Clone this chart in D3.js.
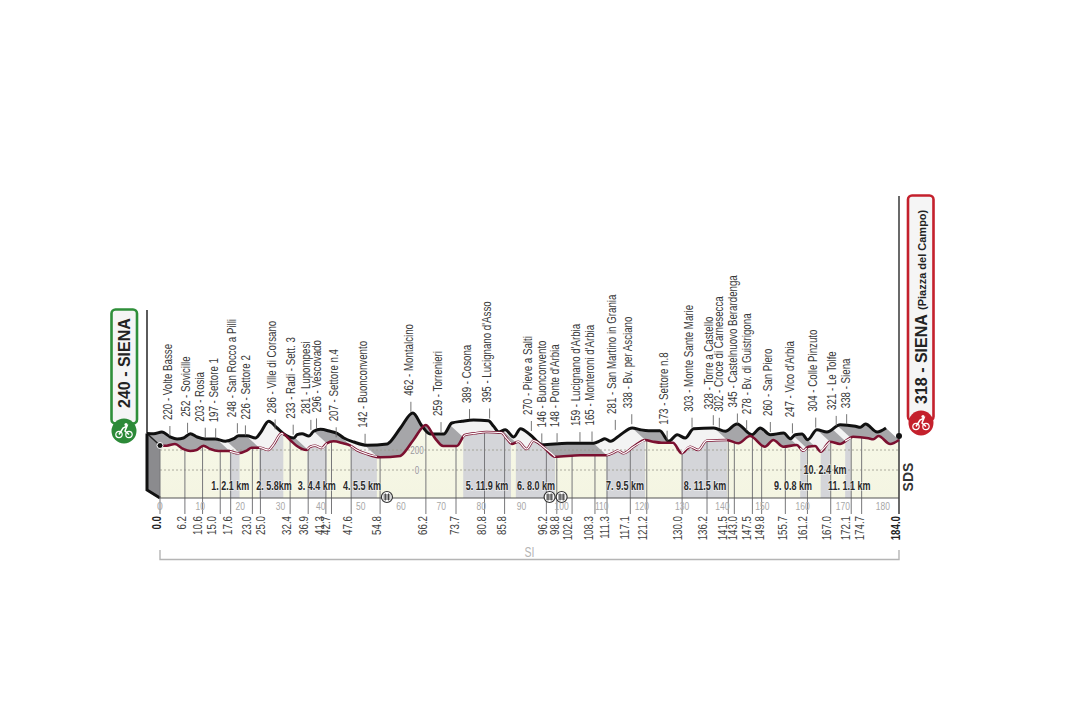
<!DOCTYPE html>
<html><head><meta charset="utf-8">
<script src="https://cdnjs.cloudflare.com/ajax/libs/d3/7.8.5/d3.min.js"></script>
<style>html,body{margin:0;padding:0;background:#fff}svg{display:block}text{font-family:"Liberation Sans",sans-serif}</style>
</head><body><svg id="c" width="1068" height="712"></svg>
<script>
// profile
const profileKm=[0,1.7,3.7,5.8,7.5,9.1,10.8,12.5,14.5,17,19.5,21.6,22.8,24.9,27,28.2,30.3,32.4,34,36.5,37.4,38.6,40.3,41.5,43.2,45.6,47.3,49,51.5,54.8,59.8,60.2,63.1,66.2,68.5,70.5,73.9,75.9,78.4,81.3,85,86.3,87.6,89.2,91.3,93,95.4,98.4,104.6,111.2,112.9,114,115.4,117.9,120.8,122.8,124.9,127.7,129.9,132,134,136.1,141.1,144,146.9,150.6,152.7,155.2,158.5,160.2,161.4,163.1,164.5,166.8,169.3,172.6,176.4,177.6,178.9,181.8,184];
const profileElev=[245,243,260,210,190,200,243,210,190,190,167,193,223,223,200,250,367,300,243,200,233,243,220,267,287,267,247,200,160,127,140,150,300,450,317,240,240,350,367,380,373,317,260,283,210,293,233,133,147,147,173,193,167,233,300,283,273,273,167,233,200,293,300,267,340,233,300,233,250,193,233,240,183,283,260,333,317,307,340,260,300];
const placeKm=[6.2,10.6,15.0,17.6,23.0,25.0,32.4,36.9,41.3,42.7,47.6,54.8,66.2,73.7,80.8,85.8,96.2,98.8,102.6,108.3,111.3,117.1,121.2,130.0,136.2,141.5,143.0,147.5,149.8,155.7,161.2,167.0,172.1,174.7];
const placeKmLabels=["6.2","10.6","15.0","17.6","23.0","25.0","32.4","36.9","41.3","42.7","47.6","54.8","66.2","73.7","80.8","85.8","96.2","98.8","102.6","108.3","111.3","117.1","121.2","130.0","136.2","141.5","143.0","147.5","149.8","155.7","161.2","167.0","172.1","174.7"];
const placeElev=[220,252,203,197,248,226,286,233,281,296,207,142,462,259,389,395,270,146,148,159,165,281,338,173,303,328,302,345,278,260,247,304,321,338];
const placeNames=["Volte Basse","Sovicille","Rosia","Settore 1","San Rocco a Pilli","Settore 2","Ville di Corsano","Radi - Sett. 3","Lupompesi","Vescovado","Settore n.4","Buonconvento","Montalcino","Torrenieri","Cosona","Lucignano d'Asso","Pieve a Salti","Buonconvento","Ponte d'Arbia","Lucignano d'Arbia","Monteroni d'Arbia","San Martino in Grania","Bv. per Asciano","Settore n.8","Monte Sante Marie","Torre a Castello","Croce di Carnesecca","Castelnuovo Berardenga","Bv. di Guistrigona","San Piero","Vico d'Arbia","Colle Pinzuto","Le Tolfe","Siena"];
const sectorStart=[17.4,24.7,36.7,47.5,75.5,88.6,111.2,129.9,159.4,164.5,170.6];
const sectorEnd=[19.8,30.7,41.5,54,87.4,98.4,120.8,141.2,161,166.8,172];
const sectorNames=["1. 2.1 km","2. 5.8km","3. 4.4 km","4. 5.5 km","5. 11.9 km","6. 8.0 km","7. 9.5 km","8. 11.5 km","9. 0.8 km","10. 2.4 km","11. 1.1 km"];
const kmTicks=[10,20,30,40,50,60,70,80,90,100,110,120,130,140,150,160,170,180];
const crossingKm=[56.5,97,100];
const elevTicks=[200,0];

// layout
const labelNudge=[-2,-2,-5,-2,-5,.5,-3,-2.5,-5,.5,-2,-2,-2,-3,-3,-2.5,-3,0,-2,-4,-2,-3.5,-3.5,-3,-3,-4,0,-4.5,.5,-2,-2,-3,-4.5,-.5];
const kmLabelNudge=[-3,-5,-8.5,-3,-5.7,.6,-3.4,-4,-6,-5,-3,-3,-2.6,-1,-2.8,-3,-3.6,-1.8,-3.7,-6,-2,-5,-3.4,-4.5,-3.7,-5,-1,-5.7,-1.6,-2.6,-4.4,-4,-5,-1.6];
const sectorLabelX=[17.5,28.4,39,50.3,81.4,93.6,115.8,135.7,157.6,165.6,171.6];
const sectorLabelY=[486,486,486,486,486,486,486,486,486,470,486];
const baseY=498,dx=-13,dy=-12,tickDx=-15,squeeze=.81;

const x=d3.scaleLinear().domain([0,184]).range([160,899]);
const y=d3.scaleLinear().domain([0,200]).range([470,450]);
const elevAt=d3.scaleLinear().domain(profileKm).range(profileElev);
const svg=d3.select("#c");
const profile=profileKm.map((k,i)=>[k,profileElev[i]]);
function part(a,b){return [[a,elevAt(a)],...profile.filter(d=>d[0]>a&&d[0]<b),[b,elevAt(b)]];}
const redLine=d3.line().x(d=>x(d[0])).y(d=>y(d[1])).curve(d3.curveMonotoneX);
const blackLine=d3.line().x(d=>x(d[0])+dx).y(d=>y(d[1])+dy).curve(d3.curveMonotoneX);
const frontArea=d3.area().x(d=>x(d[0])).y0(baseY).y1(d=>y(d[1])).curve(d3.curveMonotoneX);
function topFace(pts){
  const a=pts.map(d=>[x(d[0])+dx,y(d[1])+dy]);
  const b=pts.slice().reverse().map(d=>[x(d[0]),y(d[1])]);
  return "M"+a.concat(b).map(p=>p.join(",")).join("L")+"Z";
}
const defs=svg.append("defs");
const g1=defs.append("linearGradient").attr("id","front").attr("x1",0).attr("x2",0).attr("y1",0).attr("y2",1);
g1.append("stop").attr("offset",0).attr("stop-color","#fbfbf0");
g1.append("stop").attr("offset",.25).attr("stop-color","#f6f7e6");
g1.append("stop").attr("offset",1).attr("stop-color","#f4f5e2");

// front and top faces
svg.append("path").attr("d",frontArea(profile)).attr("fill","url(#front)");
svg.append("path").attr("d",topFace(profile)).attr("fill","#a6a6a9");
sectorStart.forEach((s,i)=>{
  svg.append("path").attr("d",frontArea(part(s,sectorEnd[i]))).attr("fill","#d4d5d9");
  svg.append("path").attr("d",topFace(part(s,sectorEnd[i]))).attr("fill","#f3f3f3");
});
// elevation grid
elevTicks.forEach(e=>{
  svg.append("line").attr("x1",x(0)).attr("x2",x(184)).attr("y1",y(e)).attr("y2",y(e))
    .attr("stroke","#9a9a8c").attr("stroke-width",.8).attr("stroke-dasharray","2 2");
});
// start side
const e0=profileElev[0];
svg.append("path").attr("d",`M${x(0)+dx},${y(e0)+dy}L${x(0)},${y(e0)}L${x(0)},${baseY}L${x(0)+dx},${baseY-8}Z`).attr("fill","#8b8b8e");
svg.append("path").attr("d",`M${x(0)+dx},${y(e0)+dy}L${x(0)},${y(e0)}`).attr("stroke","#222").attr("stroke-width",1.5);
svg.append("line").attr("x1",x(0)+dx).attr("x2",x(0)+dx).attr("y1",310).attr("y2",y(e0)+dy).attr("stroke","#333").attr("stroke-width",1.6);
svg.append("path").attr("d",`M${x(0)+dx},${y(e0)+dy}L${x(0)+dx},${baseY-8}L${x(0)},${baseY}`).attr("fill","none").attr("stroke","#111").attr("stroke-width",3);
// place tick lines
placeKm.concat([0]).forEach(k=>{
  svg.append("line").attr("x1",x(k)).attr("x2",x(k)).attr("y1",y(elevAt(k))).attr("y2",baseY+16).attr("stroke","#77777a").attr("stroke-width",1);
});
// baseline
svg.append("line").attr("x1",x(0)).attr("x2",x(184)).attr("y1",baseY).attr("y2",baseY).attr("stroke","#555").attr("stroke-width",1.2);
svg.append("line").attr("x1",x(184)).attr("x2",x(184)).attr("y1",196).attr("y2",baseY+16).attr("stroke","#444").attr("stroke-width",1.6);
// km scale numbers
svg.append("g").selectAll("text").data(kmTicks).join("text").attr("transform",d=>`translate(${x(d)},${baseY+12}) scale(${squeeze},1)`)
  .attr("text-anchor","middle").attr("font-size",10.5).attr("fill","#a8a8a8").text(d=>d);
svg.append("text").attr("x",x(0)).attr("y",baseY+12).attr("text-anchor","middle").attr("font-size",10.5).attr("fill","#a8a8a8").text("0");
// elevation numbers
elevTicks.forEach(e=>{
  svg.append("text").attr("transform",`translate(${x(64)},${y(e)+3.5}) scale(${squeeze},1)`).attr("text-anchor","middle").attr("font-size",10).attr("fill","#999")
    .attr("stroke","#f6f6ea").attr("stroke-width",2).attr("paint-order","stroke").text(e);
});
// profile lines
svg.append("path").attr("d",blackLine(profile)).attr("fill","none").attr("stroke","#111").attr("stroke-width",3).attr("stroke-linejoin","round");
svg.append("path").attr("d",redLine(profile)).attr("fill","none").attr("stroke","#7b1030").attr("stroke-width",2.6).attr("stroke-linejoin","round");
sectorStart.forEach((s,i)=>{
  svg.append("path").attr("d",redLine(part(s,sectorEnd[i]))).attr("fill","none").attr("stroke","#fff").attr("stroke-width",1.2);
});
svg.append("circle").attr("cx",x(0)).attr("cy",y(e0)).attr("r",3).attr("fill","#111").attr("stroke","#fff").attr("stroke-width",1);
svg.append("circle").attr("cx",x(184)).attr("cy",y(profileElev[profileElev.length-1])-4).attr("r",3).attr("fill","#111");
// top labels
placeKm.forEach((k,i)=>{
  const tx=x(k)+tickDx, ye=y(placeElev[i]);
  svg.append("line").attr("x1",tx).attr("x2",tx).attr("y1",ye-22).attr("y2",ye-12).attr("stroke","#666").attr("stroke-width",.9);
  const lx=tx+labelNudge[i]+4, ly=ye-28;
  svg.append("text").attr("transform",`translate(${lx},${ly}) rotate(-90) scale(${squeeze},1)`).attr("font-size",12).attr("fill","#3a3a3a")
    .text(placeElev[i]+" - "+placeNames[i]);
});
// km labels below
placeKmLabels.forEach((t,i)=>{
  svg.append("text").attr("transform",`translate(${x(placeKm[i])+4+kmLabelNudge[i]},516) rotate(-90) scale(${squeeze},1)`).attr("text-anchor","end").attr("font-size",12).attr("fill","#444").text(t);
});
[[0,"0.0"],[184,"184.0"]].forEach(d=>{
  svg.append("text").attr("transform",`translate(${x(d[0])+.5},516) rotate(-90) scale(${squeeze},1)`).attr("text-anchor","end").attr("font-size",12).attr("font-weight","bold").attr("fill","#222").text(d[1]);
});
// sector labels
sectorNames.forEach((t,i)=>{
  svg.append("text").attr("transform",`translate(${x(sectorLabelX[i])},${sectorLabelY[i]+4}) scale(.72,1)`).attr("text-anchor","middle").attr("font-size",12.5).attr("font-weight","bold").attr("fill","#2a2a2a")
    .attr("stroke","#fff").attr("stroke-opacity",.55).attr("stroke-width",1.5).attr("paint-order","stroke").text(t);
});
// crossings
crossingKm.forEach(k=>{
  const g=svg.append("g").attr("transform",`translate(${x(k)},${baseY-1})`);
  g.append("circle").attr("r",5.5).attr("fill","#fff").attr("stroke","#333").attr("stroke-width",1.2);
  [-2,0,2].forEach(o=>g.append("line").attr("x1",-3.5).attr("x2",3.5).attr("y1",o).attr("y2",o).attr("stroke","#333").attr("stroke-width",.9));
  g.append("line").attr("x1",-1.6).attr("x2",-1.6).attr("y1",-3.5).attr("y2",3.5).attr("stroke","#333").attr("stroke-width",.9);
  g.append("line").attr("x1",1.6).attr("x2",1.6).attr("y1",-3.5).attr("y2",3.5).attr("stroke","#333").attr("stroke-width",.9);
});
// SI bracket and SDS
svg.append("path").attr("d",`M${x(0)},550V559.5H${x(184)}V550`).attr("fill","none").attr("stroke","#b5b5b5").attr("stroke-width",1.4);
svg.append("text").attr("transform",`translate(${x(92)},557) scale(.75,1)`).attr("text-anchor","middle").attr("font-size",14).attr("fill","#b5b5b5").text("SI");
svg.append("text").attr("transform",`translate(913,477) rotate(-90)`).attr("text-anchor","middle").attr("font-size",14).attr("font-weight","bold").attr("fill","#333").text("SDS");
// banners
function bike(g){
  g.append("circle").attr("cx",-5).attr("cy",3.5).attr("r",3.2).attr("fill","none").attr("stroke","#fff").attr("stroke-width",1.2);
  g.append("circle").attr("cx",5).attr("cy",3.5).attr("r",3.2).attr("fill","none").attr("stroke","#fff").attr("stroke-width",1.2);
  g.append("path").attr("d","M-5,3.5L-1,-3L3,-5L1,0L5,3.5").attr("fill","none").attr("stroke","#fff").attr("stroke-width",1.5);
  g.append("circle").attr("cx",2).attr("cy",-6.5).attr("r",1.6).attr("fill","#fff");
}
svg.append("rect").attr("x",111.5).attr("y",309.5).attr("width",25.5).attr("height",114).attr("rx",4).attr("fill","#f5f5f5").attr("stroke","#2f8f3a").attr("stroke-width",2.6);
svg.append("text").attr("transform","translate(130,408) rotate(-90)").attr("font-weight","bold").attr("font-size",16).attr("fill","#222").text("240 - SIENA");
const gl=svg.append("g").attr("transform","translate(124,431)");
gl.append("circle").attr("r",12.5).attr("fill","#2c8a38");bike(gl);
svg.append("rect").attr("x",908).attr("y",195.5).attr("width",25.5).attr("height",225).attr("rx",4).attr("fill","#f5f5f5").attr("stroke","#c4202c").attr("stroke-width",2.6);
svg.append("text").attr("transform","translate(927,404) rotate(-90)").attr("font-weight","bold").attr("font-size",16).attr("fill","#222").text("318 - SIENA");
svg.append("text").attr("transform","translate(926,310) rotate(-90)").attr("font-weight","bold").attr("font-size",11).attr("fill","#222").text("(Piazza del Campo)");
const gr=svg.append("g").attr("transform","translate(921,423)");
gr.append("circle").attr("r",12.5).attr("fill","#c4202c");bike(gr);
</script></body></html>
